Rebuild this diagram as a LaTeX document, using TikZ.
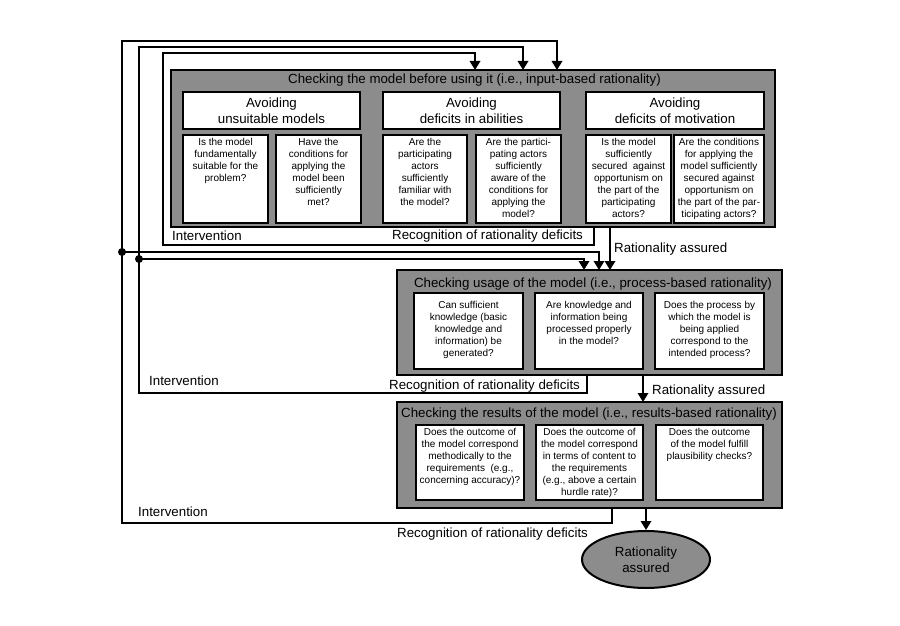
\documentclass[tikz,border=0pt]{standalone}
\usepackage{fontspec}
\setmainfont{Liberation Sans}
\usetikzlibrary{arrows.meta,shapes.geometric}
\definecolor{boxgrey}{RGB}{140,140,140}
\tikzset{
 greybox/.style={draw=black, line width=2.8pt, fill=boxgrey, inner sep=0pt, outer sep=0pt},
 whitebox/.style={draw=black, line width=2.4pt, fill=white, inner sep=0pt, outer sep=0pt},
 headbox/.style={whitebox, align=center, font=\fontsize{13.3}{16}\selectfont},
 qtext/.style={font=\fontsize{10}{12}\selectfont, align=center, inner sep=0pt, anchor=north},
 bigtext/.style={font=\fontsize{13.3}{16}\selectfont, inner sep=0pt},
 conn/.style={line width=1.8pt},
 arr/.style={conn, -{Triangle[length=9pt,width=10.5pt]}},
 dotnode/.style={circle, fill=black, inner sep=0pt, minimum size=8pt},
}
\begin{document}
\begin{tikzpicture}[x=1pt,y=-1pt]
\useasboundingbox (0,0) rectangle (900,626);

% ---------- Box 1 ----------
\node[greybox, minimum width=604pt, minimum height=157pt] (b1) at (473,148.5) {};
\node[bigtext] (t1) at (474.5,80) {Checking the model before using it (i.e., input-based rationality)};
\node[headbox, minimum width=177pt, minimum height=37pt] (h1) at (271.5,110.5) {Avoiding\\unsuitable models};
\node[headbox, minimum width=177pt, minimum height=37pt] (h2) at (471.5,110.5) {Avoiding\\deficits in abilities};
\node[headbox, minimum width=178pt, minimum height=37pt] (h3) at (675,110.5) {Avoiding\\deficits of motivation};

\node[whitebox, minimum width=85pt, minimum height=88pt] (qa) at (225.5,179) {};
\node[whitebox, minimum width=85pt, minimum height=88pt] (qb) at (318.5,179) {};
\node[whitebox, minimum width=84pt, minimum height=88pt] (qc) at (425,179) {};
\node[whitebox, minimum width=85pt, minimum height=88pt] (qd) at (518.5,179) {};
\node[whitebox, minimum width=85pt, minimum height=88pt] (qe) at (628.5,179) {};
\node[whitebox, minimum width=90pt, minimum height=88pt] (qf) at (719,179) {};
\node[qtext] (ta) at ([yshift=-3.5pt]qa.north) {Is the model\\fundamentally\\suitable for the\\problem?};
\node[qtext] (tb) at ([yshift=-3.5pt]qb.north) {Have the\\conditions for\\applying the\\model been\\sufficiently\\met?};
\node[qtext] (tc) at ([yshift=-3.5pt]qc.north) {Are the\\participating\\actors\\sufficiently\\familiar with\\the model?};
\node[qtext] (td) at ([yshift=-3.5pt]qd.north) {Are the partici-\\pating actors\\sufficiently\\aware of the\\conditions for\\applying the\\model?};
\node[qtext] (te) at ([yshift=-3.5pt]qe.north) {Is the model\\sufficiently\\secured\ \ against\\opportunism on\\the part of the\\participating\\actors?};
\node[qtext] (tf) at ([yshift=-3.5pt]qf.north) {Are the conditions\\for applying the\\model sufficiently\\secured against\\opportunism on\\the part of the par-\\ticipating actors?};

% ---------- Box 2 ----------
\node[greybox, minimum width=385pt, minimum height=105pt] (b2) at (589.5,322.5) {};
\node[bigtext] (t2) at (593,284) {Checking usage of the model (i.e., process-based rationality)};
\node[whitebox, minimum width=109pt, minimum height=76pt] (qg) at (468.5,331) {};
\node[whitebox, minimum width=108pt, minimum height=76pt] (qh) at (589,331) {};
\node[whitebox, minimum width=109pt, minimum height=76pt] (qi) at (709.5,331) {};
\node[qtext] (tg) at ([yshift=-8pt]qg.north) {Can sufficient\\knowledge (basic\\knowledge and\\information) be\\generated?};
\node[qtext] (th) at ([yshift=-8pt]qh.north) {Are knowledge and\\information being\\processed properly\\in the model?};
\node[qtext] (ti) at ([yshift=-8pt]qi.north) {Does the process by\\which the model is\\being applied\\correspond to the\\intended process?};

% ---------- Box 3 ----------
\node[greybox, minimum width=385pt, minimum height=106pt] (b3) at (589.5,455) {};
\node[bigtext] (t3) at (589,414) {Checking the results of the model (i.e., results-based rationality)};
\node[whitebox, minimum width=108pt, minimum height=75pt] (qj) at (470,462.5) {};
\node[whitebox, minimum width=107pt, minimum height=75pt] (qk) at (589.5,462.5) {};
\node[whitebox, minimum width=107pt, minimum height=75pt] (ql) at (709.5,462.5) {};
\node[qtext] (tj) at ([yshift=-3.5pt]qj.north) {Does the outcome of\\the model correspond\\methodically to the\\requirements\ \ (e.g.,\\concerning accuracy)?};
\node[qtext] (tk) at ([yshift=-3.5pt]qk.north) {Does the outcome of\\the model correspond\\in terms of content to\\the requirements\\(e.g., above a certain\\hurdle rate)?};
\node[qtext] (tl) at ([yshift=-3.5pt]ql.north) {Does the outcome\\of the model fulfill\\plausibility checks?};

% ---------- Final ellipse ----------
\node[ellipse, draw=black, line width=2pt, fill=boxgrey, minimum width=128pt, minimum height=57pt,
      inner sep=0pt, align=center, font=\fontsize{13.3}{16}\selectfont] (ra) at (646,559.5) {Rationality\\assured};

% ---------- Dots ----------
\node[dotnode] (d1) at (122,252) {};
\node[dotnode] (d2) at (139,259) {};

% ---------- Feedback loops ----------
\draw[arr] (b3.south -| 612,0) -- (612,523) -- (122,523) -- (d1.center) -- (122,41) -- (557,41) -- (b1.north -| 557,0);
\draw[arr] (d1.center) -| (b2.north -| 599,0);
\draw[arr] (b2.south -| 587,0) -- (587,393) -- (139,393) -- (d2.center) -- (139,47) -- (523,47) -- (b1.north -| 523,0);
\draw[arr] (d2.center) -| (b2.north -| 584,0);
\draw[arr] (b1.south -| 594,0) -- (594,245) -- (163,245) -- (163,53) -- (475,53) -- (b1.north -| 475,0);

% ---------- Forward arrows ----------
\draw[arr] (b1.south -| 610,0) -- (b2.north -| 610,0);
\draw[arr] (b2.south -| 643,0) -- (b3.north -| 643,0);
\draw[arr] (b3.south -| 646,0) -- (ra.north);

% ---------- Labels ----------
\node[bigtext, anchor=west] (l1) at (172,236) {Intervention};
\node[bigtext, anchor=west] (l2) at (392,236) {Recognition of rationality deficits};
\node[bigtext, anchor=west] (l3) at (614,249) {Rationality assured};
\node[bigtext, anchor=west] (l4) at (149,381) {Intervention};
\node[bigtext, anchor=west] (l5) at (389,386) {Recognition of rationality deficits};
\node[bigtext, anchor=west] (l6) at (652,391) {Rationality assured};
\node[bigtext, anchor=west] (l7) at (138,512) {Intervention};
\node[bigtext, anchor=west] (l8) at (397,534) {Recognition of rationality deficits};
\end{tikzpicture}
\end{document}
